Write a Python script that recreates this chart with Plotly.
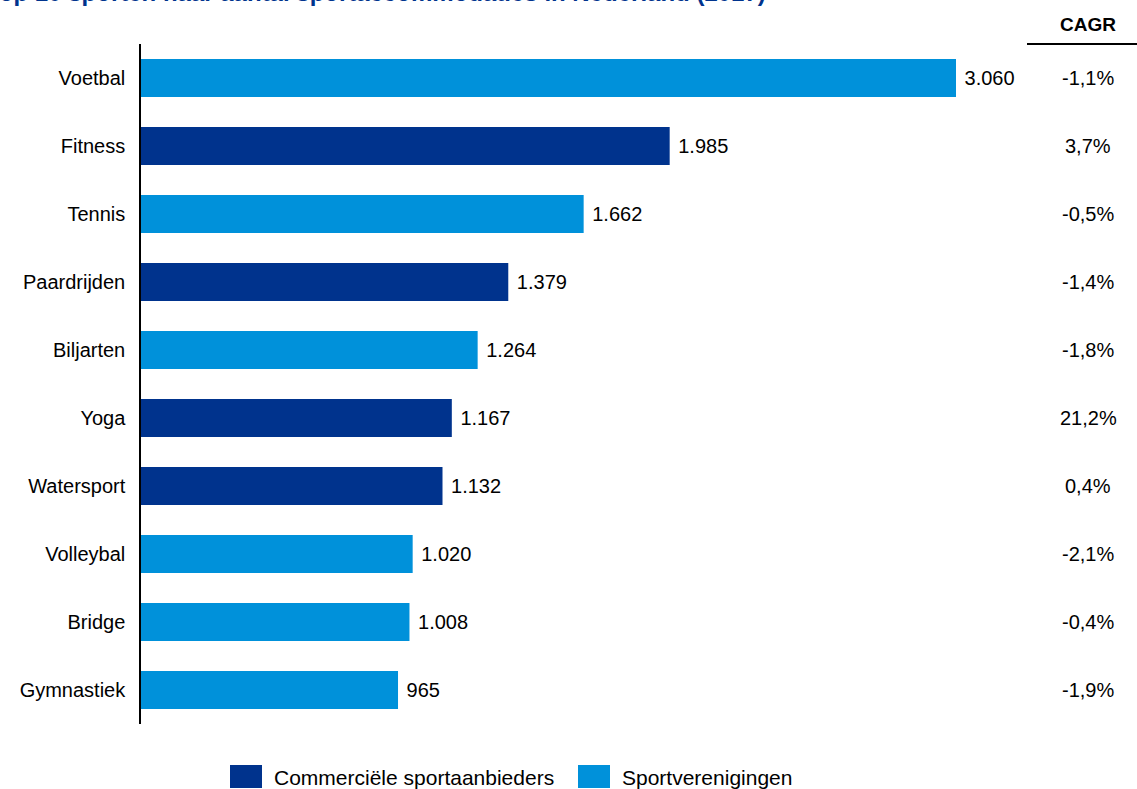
import plotly.graph_objects as go

categories = ["Voetbal", "Fitness", "Tennis", "Paardrijden", "Biljarten", "Yoga",
              "Watersport", "Volleybal", "Bridge", "Gymnastiek"]
values = [3060, 1985, 1662, 1379, 1264, 1167, 1132, 1020, 1008, 965]
types = ["S", "C", "S", "C", "S", "C", "C", "S", "S", "S"]
cagr = ["-1,1%", "3,7%", "-0,5%", "-1,4%", "-1,8%", "21,2%", "0,4%", "-2,1%", "-0,4%", "-1,9%"]

series_names = {"C": "Commerciële sportaanbieders", "S": "Sportverenigingen"}
series_colors = {"C": "#00338D", "S": "#0091DA"}

FONT = "Arial, Liberation Sans, sans-serif"
OFF = 0  # body margin removed via post_script
W, H = 1137 - OFF, 789 - OFF
# plot area in page pixels: x 141..1137, y 44..724
ML, MR, MT = 141 - OFF, 0, 44 - OFF
MB = H - (724 - OFF)
PW = W - ML - MR
PH = H - MT - MB
px_per_unit = (956 - 141) / 3060
xmax = PW / px_per_unit


def fmt(v):
    return f"{v:,}".replace(",", ".")


def paper_x(page_px):
    return (page_px - OFF - ML) / PW


def paper_y(page_py):
    return (H - MB - (page_py - OFF)) / PH


fig = go.Figure()
for key in ["C", "S"]:
    ys = [c for c, t in zip(categories, types) if t == key]
    xs = [v for v, t in zip(values, types) if t == key]
    fig.add_trace(go.Bar(
        y=ys, x=xs, orientation="h", name=series_names[key],
        marker=dict(color=series_colors[key], line=dict(width=0)),
        text=[" " + fmt(v) for v in xs], textposition="outside",
        textfont=dict(family=FONT, size=20, color="#000000"),
        cliponaxis=False, width=0.56, showlegend=False,
    ))

# CAGR column
for c, g in zip(categories, cagr):
    fig.add_annotation(x=paper_x(1088), xref="paper", y=c, yref="y", text=g,
                       showarrow=False, xanchor="center",
                       font=dict(family=FONT, size=20, color="#000000"))
fig.add_annotation(x=paper_x(1088), xref="paper", y=paper_y(24), yref="paper",
                   text="<b>CAGR</b>", showarrow=False, xanchor="center", yanchor="middle",
                   font=dict(family=FONT, size=19, color="#000000"))
fig.add_shape(type="line", xref="paper", yref="paper",
              x0=paper_x(1027), x1=paper_x(1137), y0=paper_y(44), y1=paper_y(44),
              line=dict(color="#000000", width=2))

# Title (partially cut off at the page edge, as in the reference)
fig.add_annotation(x=paper_x(-16), xref="paper", y=paper_y(8), yref="paper",
                   text="<b>Top 10 sporten naar aantal sportaccommodaties in Nederland (2017)</b>",
                   showarrow=False, xanchor="left", yanchor="bottom",
                   font=dict(family=FONT, size=24, color="#00338D"))

# Legend (large colour swatches as in the reference)
legend_items = [("C", 230, 272), ("S", 578, 620)]
for key, sx, tx in legend_items:
    fig.add_shape(type="rect", xref="paper", yref="paper",
                  x0=paper_x(sx), x1=paper_x(sx + 32), y0=paper_y(788), y1=paper_y(765),
                  fillcolor=series_colors[key], line=dict(width=0))
    fig.add_annotation(x=paper_x(tx), xref="paper", y=paper_y(777), yref="paper",
                       text=series_names[key], showarrow=False,
                       xanchor="left", yanchor="middle",
                       font=dict(family=FONT, size=21, color="#000000"))

fig.update_layout(
    width=W, height=H,
    margin=dict(l=ML, r=MR, t=MT, b=MB),
    plot_bgcolor="white", paper_bgcolor="white",
    barmode="overlay", bargap=0.44,
    font=dict(family=FONT, size=20, color="#000000"),
    xaxis=dict(range=[0, xmax], visible=False, showgrid=False, zeroline=False),
    yaxis=dict(categoryorder="array", categoryarray=categories, autorange="reversed",
               showline=True, linecolor="#000000", linewidth=1.5, ticks="",
               ticklabelstandoff=10, showgrid=False, zeroline=False,
               tickfont=dict(family=FONT, size=20, color="#000000")),
    showlegend=False,
)

fig.write_html("out.html", config={"displayModeBar": False},
               post_script="document.body.style.margin='0';")
